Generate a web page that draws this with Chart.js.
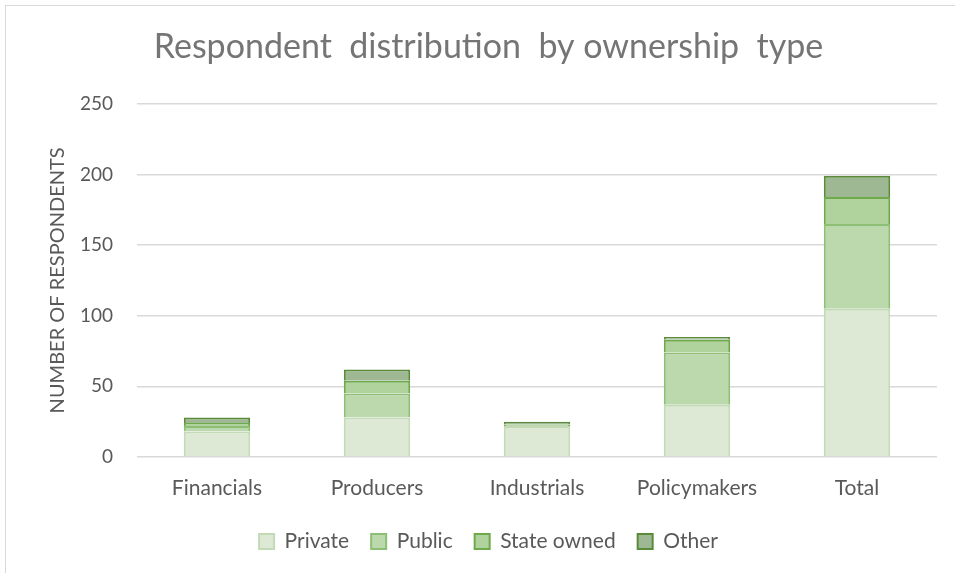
<!DOCTYPE html>
<html>
<head>
<meta charset="utf-8">
<script src="https://cdn.jsdelivr.net/npm/chart.js@4/dist/chart.umd.min.js"></script>
<style>
html,body{margin:0;padding:0;background:#fff;}
#wrap{position:absolute;left:0;top:0;width:955px;height:573px;}
#frame{position:absolute;left:5px;top:5px;width:960px;height:580px;border:1px solid #d9d9d9;box-sizing:border-box;}
canvas{position:absolute;left:0;top:0;}
</style>
</head>
<body>
<div id="wrap">
<div id="frame"></div>
<canvas id="c" width="955" height="573"></canvas>
</div>
<script>
const categories = ["Financials", "Producers", "Industrials", "Policymakers", "Total"];
const privateVals = [18, 28, 22, 37, 105];
const publicVals = [4, 17, 0, 37, 60];
const stateOwnedVals = [2, 9, 1, 9, 19];
const otherVals = [4, 8, 2, 2, 15];
const yTicks = [0, 50, 100, 150, 200, 250];

const FONT = "Lato, 'Open Sans', sans-serif";
const TXT = "#595959";

new Chart(document.getElementById("c"), {
  type: "bar",
  data: {
    labels: categories,
    datasets: [
      {label: "Private", data: privateVals, backgroundColor: "#dde8d5", borderColor: "#c3dab6", borderWidth: 2},
      {label: "Public", data: publicVals, backgroundColor: "#bcd8ad", borderColor: "#8cbf74", borderWidth: 2},
      {label: "State owned", data: stateOwnedVals, backgroundColor: "#b0d29c", borderColor: "#6ea94b", borderWidth: 2},
      {label: "Other", data: otherVals, backgroundColor: "#9fb894", borderColor: "#5a8a3a", borderWidth: 2}
    ]
  },
  options: {
    responsive: false,
    animation: false,
    layout: {padding: {left: 40, right: 18, top: 0, bottom: 11}},
    datasets: {bar: {barPercentage: 0.415, categoryPercentage: 1}},
    plugins: {
      title: {display: true, text: "Respondent  distribution  by ownership  type", color: "#757575",
        font: {family: FONT, size: 34, weight: "normal"}, padding: {top: 27, bottom: 36}},
      legend: {position: "bottom",
        labels: {color: TXT, font: {family: FONT, size: 21}, boxWidth: 15, boxHeight: 15, padding: 22}},
      tooltip: {enabled: false}
    },
    scales: {
      x: {stacked: true,
        afterFit: (s) => { s.height = 52; },
        grid: {display: false, drawTicks: false},
        border: {display: false},
        ticks: {color: TXT, font: {family: FONT, size: 21}, padding: 19}
      },
      y: {stacked: true, min: 0, max: 250,
        afterBuildTicks: (s) => { s.ticks = yTicks.map(v => ({value: v})); },
        afterFit: (s) => { s.width = 97; },
        grid: {color: "#d9d9d9", lineWidth: 1.5, drawTicks: false},
        border: {display: false},
        ticks: {color: TXT, font: {family: FONT, size: 19}, padding: 24},
        title: {display: true, text: "NUMBER OF RESPONDENTS", color: TXT,
          font: {family: FONT, size: 20}, padding: {top: 6, bottom: 0}}
      }
    }
  }
});
</script>
</body>
</html>
